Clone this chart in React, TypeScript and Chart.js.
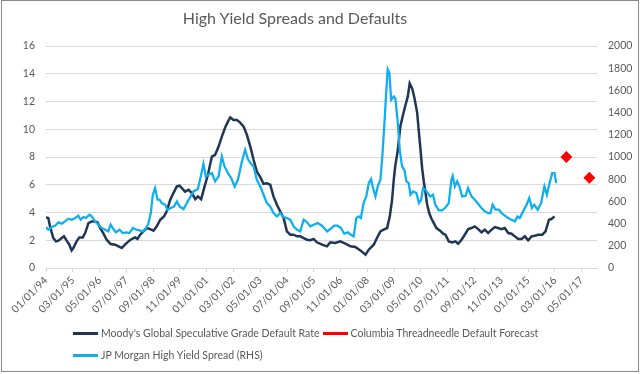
import React, { useEffect, useRef } from "react";
import { Chart, registerables } from "chart.js";

Chart.register(...registerables);

// x values are months since 01/01/1994
const defaultMonths = [
  0, 1.2, 2.1, 3.8, 5.2, 6.5, 8.2, 9.4, 10.8, 12.2, 13.4, 14.3, 16.0, 17.4, 19.2, 20.4, 22.2, 23.9, 25.6, 26.9,
  28.3, 30.0, 31.7, 33.8, 36.1, 37.9, 39.6, 41.3, 43.1, 44.8, 46.6, 47.8, 49.2, 50.9, 52.7, 54.4, 56.2, 57.9,
  59.7, 61.7, 63.1, 64.9, 66.6, 68.4, 69.8, 71.0, 72.7, 74.5, 76.2, 78.0, 79.4, 81.1, 82.9, 84.6, 86.7, 88.4,
  90.2, 91.9, 93.7, 95.1, 96.3, 98.0, 99.8, 101.5, 103.3, 105.0, 106.8, 108.5, 110.2, 112.0, 113.7, 115.5,
  117.2, 118.9, 120.7, 122.4, 124.2, 125.9, 127.7, 129.4, 131.2, 132.9, 134.7, 136.4, 138.2, 139.9, 141.6,
  144.3, 146.9, 148.6, 151.2, 153.8, 156.5, 159.1, 161.7, 164.3, 167.0, 168.7, 171.3, 173.0, 174.8, 176.5,
  178.3, 179.7, 180.9, 181.8, 182.6, 183.9, 185.2, 186.6, 187.9, 189.1, 190.1, 191.4, 192.6, 194.0, 194.9,
  195.7, 196.6, 197.5, 198.3, 199.2, 200.3, 201.3, 202.7, 204.1, 205.8, 207.6, 208.8, 210.5, 212.3, 214.0,
  215.4, 217.2, 218.9, 220.7, 222.4, 224.1, 225.9, 227.6, 229.4, 231.1, 232.9, 234.6, 236.3, 238.1, 239.8,
  241.6, 243.3, 245.1, 246.8, 248.6, 250.3, 252.0, 253.8, 255.5, 257.3, 259.4, 261.1, 262.9, 264.2, 265.8,
];
const defaultRates = [
  3.65, 3.6, 3.0, 2.16, 1.92, 1.97, 2.16, 2.28, 1.97, 1.68, 1.27, 1.44, 1.92, 2.2, 2.2, 2.5, 3.24, 3.36, 3.36, 3.3,
  2.88, 2.5, 2.04, 1.73, 1.68, 1.56, 1.44, 1.68, 1.92, 2.09, 2.2, 2.09, 2.4, 2.64, 2.88, 2.8, 2.69, 3.0,
  3.48, 3.72, 4.08, 4.9, 5.4, 5.88, 5.93, 5.76, 5.5, 5.64, 5.4, 4.96, 5.16, 4.96, 5.88, 6.7, 8.03, 8.15,
  8.75, 9.47, 10.14, 10.55, 10.86, 10.67, 10.67, 10.48, 10.19, 9.6, 8.75, 7.8, 6.95, 6.55, 6.07, 6.1,
  6.0, 5.16, 4.56, 4.08, 3.6, 2.64, 2.4, 2.4, 2.28, 2.28, 2.16, 2.04, 2.0, 2.09, 1.85,
  1.68, 1.56, 1.85, 1.8, 1.92, 1.75, 1.56, 1.51, 1.27, 0.96, 1.32, 1.68, 2.16, 2.64, 2.76,
  2.88, 3.72, 4.92, 6.4, 7.4, 8.5, 10.2, 11.03, 11.75, 12.35, 13.31, 12.95, 12.23, 11.2, 9.8,
  8.6, 7.2, 6.2, 5.5, 4.6, 3.96, 3.6, 3.24, 2.88, 2.71, 2.47, 2.4, 1.92, 1.85, 1.92,
  1.75, 2.04, 2.4, 2.8, 2.88, 3.0, 2.8, 2.57, 2.76, 2.52, 2.76, 2.95, 2.88, 2.8, 2.88,
  2.52, 2.47, 2.28, 2.09, 2.09, 2.28, 2.0, 2.28, 2.33, 2.4, 2.4, 2.64, 3.48, 3.53, 3.72,
];

const spreadMonths = [
  0, 1.2, 3.0, 4.7, 6.5, 8.2, 9.9, 11.7, 13.4, 15.2, 16.9, 18.1, 19.5, 20.9, 22.7, 23.9, 25.6, 27.4, 29.1,
  30.9, 32.6, 33.8, 35.2, 36.6, 38.4, 40.1, 41.9, 43.6, 45.4, 47.1, 48.8, 50.6, 52.3, 53.5, 54.8, 55.8, 57.0,
  58.3, 59.3, 60.5, 62.3, 63.5, 65.2, 67.0, 68.4, 69.8, 71.9, 73.6, 75.4, 77.1, 79.4, 81.1, 82.3, 83.5, 84.9,
  86.7, 88.4, 90.2, 91.9, 93.3, 95.1, 96.8, 98.6, 100.3, 102.4, 104.1, 105.5, 106.9, 108.5, 110.2, 112.0,
  113.7, 115.5, 117.2, 118.9, 120.7, 122.4, 124.2, 125.9, 127.7, 129.4, 131.2, 132.9, 134.7, 136.4, 138.2,
  139.9, 142.0, 144.3, 146.9, 148.6, 150.7, 152.4, 154.2, 155.9, 157.7, 159.4, 160.8, 162.2, 163.4, 164.6,
  166.0, 167.4, 168.7, 169.9, 170.9, 172.2, 173.4, 174.8, 175.8, 176.9, 177.9, 178.6, 179.5, 180.4, 181.8,
  182.6, 183.9, 184.9, 186.1, 187.3, 188.4, 189.6, 190.5, 191.9, 193.6, 194.9, 196.1, 197.1, 198.3, 199.5,
  200.9, 202.3, 203.5, 205.3, 207.0, 208.8, 210.5, 211.9, 212.6, 213.7, 214.9, 216.1, 217.5, 219.3, 220.6,
  222.4, 224.1, 225.9, 227.6, 229.4, 231.1, 232.3, 233.5, 235.0, 236.7, 238.1, 239.8, 241.6, 243.3, 245.1,
  246.4, 247.6, 249.4, 251.2, 252.6, 254.0, 255.2, 257.0, 258.8, 260.5, 261.8, 263.2, 264.6, 265.8, 266.7,
];
const spreadBps = [
  369, 345, 369, 381, 411, 399, 420, 444, 435, 450, 471, 435, 459, 450, 480, 465, 420, 390, 360,
  345, 330, 390, 351, 321, 345, 315, 321, 315, 360, 345, 339, 330, 360, 399, 495, 660, 720,
  615, 615, 585, 570, 525, 540, 555, 600, 555, 531, 585, 639, 690, 711, 840, 939, 825, 840,
  855, 780, 825, 1005, 915, 855, 810, 735, 795, 960, 1065, 981, 945, 915, 795, 735,
  660, 585, 555, 495, 465, 495, 459, 450, 435, 375, 345, 330, 435, 411, 375,
  390, 405, 381, 330, 351, 381, 381, 360, 309, 321, 300, 285, 450, 465, 450,
  585, 645, 765, 801, 720, 645, 735, 795, 1005, 1305, 1605, 1791, 1755, 1515, 1545,
  1530, 1305, 1065, 915, 885, 780, 765, 660, 690, 675, 585, 615, 720, 705, 675,
  645, 660, 570, 519, 519, 545, 585, 795, 831, 735, 780, 735, 645, 651, 720,
  645, 615, 579, 540, 510, 495, 495, 570, 525, 525, 495, 471, 450, 435, 420,
  465, 450, 510, 570, 630, 540, 570, 525, 585, 735, 660, 765, 855, 855, 765,
];

const forecastMonths = [272, 284];
const forecastRates = [8.0, 6.5];

const xTickMonths = [0, 14, 28, 42, 56, 70, 84, 98, 112, 126, 140, 154, 168, 182, 196, 210, 224, 238, 252, 266, 280];

const TITLE = "High Yield Spreads and Defaults";
const NAME_DEFAULT = "Moody's Global Speculative Grade Default Rate";
const NAME_FORECAST = "Columbia Threadneedle Default Forecast";
const NAME_SPREAD = "JP Morgan High Yield Spread (RHS)";

const C_DARK = "#1f3657";
const C_LIGHT = "#0eaeef";
const C_RED = "#ff0000";
const C_TEXT = "#595959";
const C_GRID = "#d9d9d9";
const FONT = "Lato, 'Open Sans', sans-serif";

function monthLabel(v: number): string {
  const y = 1994 + Math.floor(v / 12);
  const m = (v % 12) + 1;
  const mm = m < 10 ? "0" + m : "" + m;
  const yy = String(y % 100).padStart(2, "0");
  return `${mm}/01/${yy}`;
}

export default function App() {
  const ref = useRef<HTMLCanvasElement | null>(null);

  useEffect(() => {
    if (!ref.current) return;
    const chart = new Chart(ref.current, {
      type: "line",
      data: {
        datasets: [
          {
            label: NAME_DEFAULT,
            data: defaultMonths.map((m, i) => ({ x: m, y: defaultRates[i] })),
            borderColor: C_DARK,
            backgroundColor: C_DARK,
            borderWidth: 2.5,
            pointRadius: 0,
            tension: 0,
            yAxisID: "y",
            order: 2,
          },
          {
            label: NAME_FORECAST,
            data: forecastMonths.map((m, i) => ({ x: m, y: forecastRates[i] })),
            borderColor: C_RED,
            backgroundColor: C_RED,
            showLine: false,
            pointStyle: "rectRot",
            pointRadius: 6,
            pointBorderWidth: 0,
            yAxisID: "y",
            order: 0,
          },
          {
            label: NAME_SPREAD,
            data: spreadMonths.map((m, i) => ({ x: m, y: spreadBps[i] })),
            borderColor: C_LIGHT,
            backgroundColor: C_LIGHT,
            borderWidth: 2.25,
            pointRadius: 0,
            tension: 0,
            yAxisID: "y1",
            order: 1,
          },
        ],
      },
      options: {
        responsive: false,
        animation: false,
        devicePixelRatio: 1,
        layout: { padding: { top: 46, left: 0, right: 0, bottom: 0 } },
        plugins: {
          legend: { display: false },
          title: { display: false },
          tooltip: { enabled: false },
        },
        scales: {
          x: {
            type: "linear",
            position: "bottom",
            min: 0,
            max: 288,
            afterBuildTicks: (s: any) => {
              s.ticks = xTickMonths.map((v) => ({ value: v }));
            },
            afterFit: (s: any) => {
              s.height = 106;
            },
            ticks: {
              autoSkip: false,
              minRotation: 45,
              maxRotation: 45,
              padding: 2,
              color: C_TEXT,
              font: { family: FONT, size: 10.5 },
              callback: (v: any) => monthLabel(Number(v)),
            },
            grid: { drawOnChartArea: false, drawTicks: true, tickLength: 4, color: C_GRID },
            border: { display: true, color: C_GRID },
          },
          y: {
            position: "left",
            min: 0,
            max: 16,
            afterFit: (s: any) => {
              s.width = 46;
            },
            ticks: {
              stepSize: 2,
              padding: 11,
              color: C_TEXT,
              font: { family: FONT, size: 10.5 },
              callback: (v: any) => String(v),
            },
            grid: { color: C_GRID, drawTicks: false },
            border: { display: false },
          },
          y1: {
            position: "right",
            min: 0,
            max: 2000,
            afterFit: (s: any) => {
              s.width = 43;
            },
            ticks: {
              stepSize: 200,
              padding: 11,
              color: C_TEXT,
              font: { family: FONT, size: 10.5 },
              callback: (v: any) => String(v),
            },
            grid: { drawOnChartArea: false, drawTicks: false },
            border: { display: false },
          },
        },
      },
    } as any);
    return () => chart.destroy();
  }, []);

  const sample = (color: string) => (
    <span style={{ display: "inline-block", width: 25, height: 3, background: color, marginRight: 3 }} />
  );
  const legendText: React.CSSProperties = { fontFamily: FONT, fontSize: 10.5, color: C_TEXT, whiteSpace: "nowrap" };

  return (
    <div style={{ position: "absolute", left: 0, top: 0, width: 640, height: 374, background: "#fff" }}>
      <canvas ref={ref} width={640} height={374} style={{ position: "absolute", left: 0, top: 0, width: 640, height: 374 }} />
      <div
        style={{
          position: "absolute",
          left: 0,
          top: 8,
          width: 590,
          textAlign: "center",
          fontFamily: FONT,
          fontSize: 16,
          lineHeight: "20px",
          color: C_TEXT,
        }}
      >
        {TITLE}
      </div>
      <div style={{ position: "absolute", left: 73, top: 325, display: "flex", alignItems: "center", height: 16 }}>
        {sample(C_DARK)}
        <span style={legendText}>{NAME_DEFAULT}</span>
        <span style={{ width: 3 }} />
        {sample(C_RED)}
        <span style={legendText}>{NAME_FORECAST}</span>
      </div>
      <div style={{ position: "absolute", left: 73, top: 347, display: "flex", alignItems: "center", height: 16 }}>
        {sample(C_LIGHT)}
        <span style={legendText}>{NAME_SPREAD}</span>
      </div>
      <div
        style={{
          position: "absolute",
          left: 1,
          top: 0,
          width: 636,
          height: 370,
          border: "1px solid #8a8a8a",
          pointerEvents: "none",
        }}
      />
    </div>
  );
}
